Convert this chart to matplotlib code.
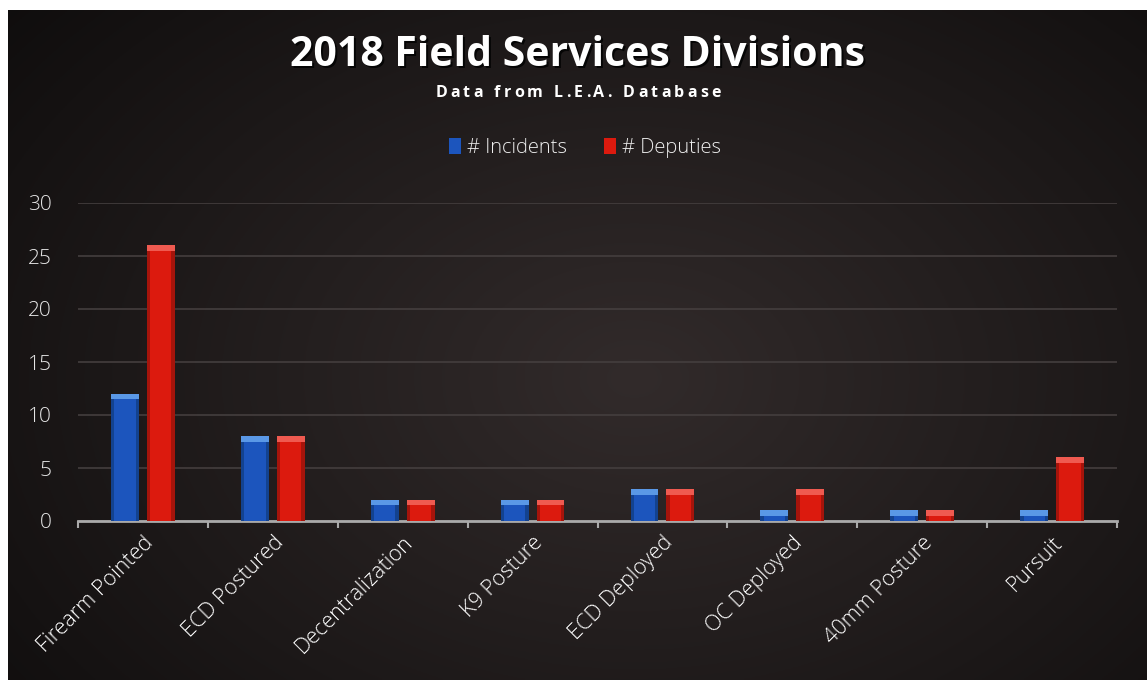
import matplotlib.pyplot as plt
import numpy as np
from matplotlib.patches import Patch

# данные с картинки
categories = ['Firearm Pointed', 'ECD Postured', 'Decentralization', 'K9 Posture',
              'ECD Deployed', 'OC Deployed', '40mm Posture', 'Pursuit']
incidents = [12, 8, 2, 2, 3, 1, 1, 1]
deputies = [26, 8, 2, 2, 3, 3, 1, 6]
yticks = [0, 5, 10, 15, 20, 25, 30]

W, H = 1147, 685
fig = plt.figure(figsize=(W / 100, H / 100), dpi=100)
fig.patch.set_facecolor('white')

# фон с радиальным градиентом
bg = fig.add_axes([8 / W, 5 / H, 1 - 8 / W, 1 - 15 / H])
bg.set_axis_off()
gy, gx = np.mgrid[0:1:300j, 0:1:500j]
r = np.sqrt(((gx - 0.55) / 0.75) ** 2 + ((gy - 0.45) / 0.9) ** 2)
r = np.clip(r, 0, 1)
c_in = np.array([50, 43, 43]) / 255
c_out = np.array([14, 12, 12]) / 255
img = c_in[None, None, :] * (1 - r[..., None]) + c_out[None, None, :] * r[..., None]
bg.imshow(img, aspect='auto', extent=[0, 1, 0, 1], origin='lower')

ax = fig.add_axes([78 / W, 164 / H, 1039 / W, 318 / H])
ax.set_facecolor('none')

x = np.arange(len(categories))
bw = 0.215
off = 0.138
inc = np.array(incidents)
dep = np.array(deputies)

ax.bar(x - off, inc, bw, color='#1c55bd', zorder=3)
ax.bar(x + off, dep, bw, color='#dc1a0e', zorder=3)
# светлые верхушки (блики)
cap = 0.5
ax.bar(x - off, cap, bw, bottom=inc - cap, color='#5a98e6', zorder=4)
ax.bar(x + off, cap, bw, bottom=dep - cap, color='#ef5a50', zorder=4)
# тёмные края слева и справа
edge = bw * 0.12
for xs, vals, dark in [(x - off, inc, '#13428f'), (x + off, dep, '#a5140b')]:
    ax.bar(xs - bw / 2, vals - cap, edge, bottom=0, align='edge', color=dark, zorder=4)
    ax.bar(xs + bw / 2 - edge, vals - cap, edge, bottom=0, align='edge', color=dark, zorder=4)

ax.set_xlim(-0.5, len(categories) - 0.5)
ax.set_ylim(0, 30)
ax.set_yticks(yticks)
ax.set_yticklabels([str(t) for t in yticks], color='#e6e6e6', fontsize=15,
                   family='Open Sans', fontweight='light')
ax.tick_params(axis='y', length=0, pad=19)
ax.grid(axis='y', color='#443e3e', linewidth=1.2, zorder=0)

ax.set_xticks(np.arange(len(categories) + 1) - 0.5, minor=True)
ax.set_xticks(x)
ax.set_xticklabels(categories, rotation=45, ha='right', va='top',
                   rotation_mode='anchor', color='white', fontsize=15.5,
                   family='Open Sans', fontweight='light')
ax.tick_params(axis='x', which='major', length=0, pad=8)
ax.tick_params(axis='x', which='minor', length=5, color='#aaaaaa', width=1.5)

for s in ['top', 'right', 'left']:
    ax.spines[s].set_visible(False)
ax.spines['bottom'].set_color('#aaaaaa')
ax.spines['bottom'].set_linewidth(2)

# заголовок с тенью
title = '2018 Field Services Divisions'
fig.text(580 / W, 1 - 57 / H, title, ha='center', va='center',
         color='#050505', fontsize=29.5, fontweight='bold', family='Open Sans')
fig.text(578 / W, 1 - 55 / H, title, ha='center', va='center',
         color='white', fontsize=29.5, fontweight='bold', family='Open Sans')

# подзаголовок с разрядкой букв
subtitle = 'Data from L.E.A. Database'
renderer = fig.canvas.get_renderer()
spacing = 3.2
pieces = []
total = 0
for ch in subtitle:
    t = fig.text(0, 0, ch, fontsize=11.5, fontweight='bold', family='Open Sans',
                 color='white', va='center', ha='left')
    w = t.get_window_extent(renderer).width if ch != ' ' else 4.5
    pieces.append((t, w))
    total += w + spacing
total -= spacing
cx = 578 - total / 2
for t, w in pieces:
    t.set_position((cx / W, 1 - 93 / H))
    cx += w + spacing

# легенда
h1 = Patch(facecolor='#1c55bd', label='# Incidents')
h2 = Patch(facecolor='#dc1a0e', label='# Deputies')
leg = fig.legend(handles=[h1, h2], loc='center', bbox_to_anchor=(585 / W, 1 - 148 / H),
                 ncol=2, frameon=False, handlelength=0.6, handleheight=0.8,
                 handletextpad=0.3, columnspacing=1.8,
                 prop={'family': 'Open Sans', 'weight': 'light', 'size': 14.5})
for t in leg.get_texts():
    t.set_color('#eeeeee')

fig.savefig('out.png', dpi=100, facecolor=fig.get_facecolor())
